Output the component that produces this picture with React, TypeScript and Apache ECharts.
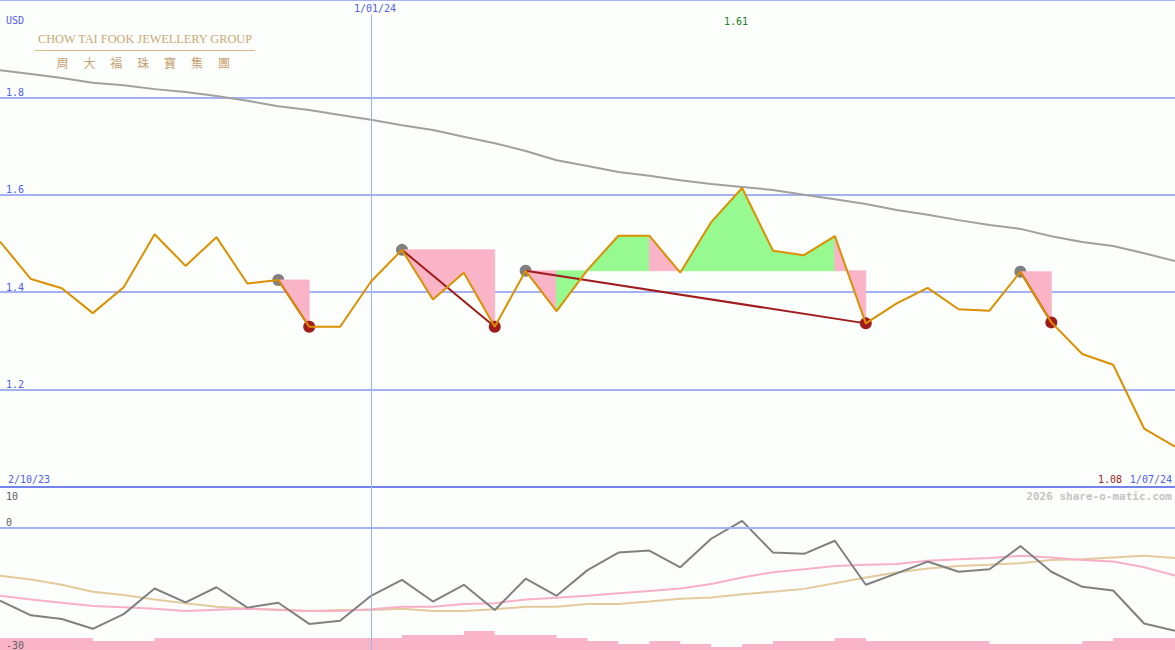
import React, { useEffect, useRef } from 'react';
import * as echarts from 'echarts';

const dates = ['9/10/23','16/10/23','23/10/23','30/10/23','6/11/23','13/11/23','20/11/23','27/11/23','4/12/23','11/12/23','18/12/23','25/12/23','1/01/24','8/01/24','15/01/24','22/01/24','29/01/24','5/02/24','12/02/24','19/02/24','26/02/24','4/03/24','11/03/24','18/03/24','25/03/24','1/04/24','8/04/24','15/04/24','22/04/24','29/04/24','6/05/24','13/05/24','20/05/24','27/05/24','3/06/24','10/06/24','17/06/24','24/06/24','1/07/24'];

const price = [1.504,1.427,1.408,1.357,1.410,1.519,1.454,1.513,1.418,1.425,1.329,1.329,1.422,1.487,1.385,1.440,1.329,1.444,1.361,1.446,1.516,1.516,1.440,1.544,1.614,1.485,1.476,1.515,1.336,1.377,1.409,1.365,1.362,1.442,1.338,1.273,1.251,1.120,1.083];

const movingAvg = [1.856,1.848,1.840,1.830,1.825,1.817,1.811,1.803,1.793,1.782,1.774,1.764,1.754,1.743,1.733,1.719,1.706,1.690,1.671,1.659,1.647,1.639,1.630,1.622,1.616,1.610,1.600,1.591,1.581,1.569,1.559,1.548,1.538,1.530,1.515,1.503,1.495,1.480,1.464];

const oscillator = [-17.9,-21.5,-22.4,-24.8,-21.2,-14.9,-18.3,-14.6,-19.6,-18.4,-23.6,-22.8,-16.7,-12.8,-18.1,-14.0,-20.2,-12.5,-16.7,-10.4,-6.1,-5.6,-9.7,-2.7,1.7,-6.1,-6.4,-3.2,-14.0,-11.2,-8.3,-10.8,-10.2,-4.5,-10.8,-14.5,-15.4,-23.5,-25.3];

const oscPink = [-16.7,-17.6,-18.4,-19.2,-19.5,-19.9,-20.4,-20.1,-19.9,-20.1,-20.4,-20.4,-20.0,-19.4,-19.4,-18.7,-18.5,-17.6,-17.2,-16.7,-16.1,-15.5,-14.9,-13.8,-12.2,-10.9,-10.2,-9.4,-9.1,-8.9,-8.1,-7.7,-7.4,-6.9,-7.3,-7.9,-8.3,-9.7,-11.7];

const oscTan = [-11.8,-12.7,-14.0,-15.7,-16.5,-17.6,-18.5,-19.4,-19.8,-20.2,-20.4,-20.2,-20.2,-19.9,-20.4,-20.4,-20.0,-19.4,-19.4,-18.7,-18.7,-18.1,-17.4,-17.1,-16.3,-15.7,-15.0,-13.6,-12.2,-11.0,-10.0,-9.4,-9.1,-8.7,-7.9,-7.7,-7.3,-6.9,-7.4];

const volume = [4,4,4,3,3,4,4,4,4,4,4,4,4,5,5,6.3,5,5,4,3,2,3,2,1,2,3,3,4,3,3,3,3,2,2,2,3,4,4,4];

const peakIdx = [9, 13, 17, 33];
const troughIdx = [10, 16, 28, 34];

const startLabel = '2/10/23';
const endLabel = '1/07/24';
const markDate = '1/01/24';
const logoEn = 'CHOW TAI FOOK JEWELLERY GROUP';
const logoZh = ['周', '大', '福', '珠', '寶', '集', '團'];

const MONO = '"DejaVu Sans Mono", monospace';
const BLUE_TXT = '#5060f0';
const GRID_BLUE = '#a4b2f2';
const VLINE = '#9fb0fa';
const PINK = '#fab4c8';
const GREEN = '#96fa91';

export default function App() {
  const ref = useRef<HTMLDivElement>(null);

  useEffect(() => {
    document.body.style.margin = '0';
    const chart = echarts.init(ref.current as HTMLDivElement, null, { renderer: 'svg' });

    const fillData: number[][] = [];
    peakIdx.forEach((p, k) => {
      const t = troughIdx[k];
      const level = price[p];
      for (let i = p; i < t; i++) {
        fillData.push([i, level, price[i], price[i + 1], price[i + 1] >= level ? 1 : 0]);
      }
    });

    const ddLines = peakIdx.map((p, k) => {
      const t = troughIdx[k];
      return price.map((v, i) => (i === p || i === t ? v : null));
    });

    const markIdx = dates.indexOf(markDate);
    const maxV = Math.max(...price);
    const lastV = price[price.length - 1];

    const option: any = {
      animation: false,
      backgroundColor: '#fbfefb',
      grid: [
        { left: 0, right: 0, top: 0, height: 487 },
        { left: 0, right: 0, top: 487, height: 163 },
      ],
      xAxis: [
        {
          type: 'category', gridIndex: 0, data: dates, boundaryGap: false,
          axisLine: { show: true, lineStyle: { color: '#7484ee', width: 2 } },
          axisTick: { show: false }, axisLabel: { show: false }, splitLine: { show: false },
        },
        {
          type: 'category', gridIndex: 1, data: dates, boundaryGap: false,
          axisLine: { show: false }, axisTick: { show: false }, axisLabel: { show: false }, splitLine: { show: false },
        },
      ],
      yAxis: [
        {
          type: 'value', gridIndex: 0, min: 1.0, max: 2.0, interval: 0.2,
          axisLine: { show: false }, axisTick: { show: false },
          splitLine: { show: true, showMinLine: false, showMaxLine: true, lineStyle: { color: GRID_BLUE, width: 2 } },
          axisLabel: {
            inside: true, margin: 6, color: BLUE_TXT, fontFamily: MONO, fontSize: 10,
            verticalAlign: 'bottom', showMinLabel: false, showMaxLabel: false,
            formatter: (v: number) => v.toFixed(1),
          },
        },
        {
          type: 'value', gridIndex: 1, min: -30, max: 10, interval: 10, z: 20,
          axisLine: { show: false }, axisTick: { show: false }, splitLine: { show: false },
          axisLabel: {
            inside: true, margin: 6, color: '#606060', fontFamily: MONO, fontSize: 10,
            verticalAlign: 'bottom', showMaxLabel: false, showMinLabel: true,
            formatter: (v: number) => (v === 0 || v === -30 ? String(v) : ''),
          },
        },
        { type: 'value', gridIndex: 1, min: 0, max: 54, show: false },
      ],
      series: [
        {
          name: 'volume', type: 'line', xAxisIndex: 1, yAxisIndex: 2, data: volume, step: 'end',
          symbol: 'none', lineStyle: { width: 0 }, areaStyle: { color: PINK, opacity: 1 }, z: 1,
        },
        {
          name: 'avg', type: 'line', xAxisIndex: 0, yAxisIndex: 0, data: movingAvg, symbol: 'none',
          lineStyle: { color: '#a0a0a0', width: 2 }, z: 2,
          markLine: {
            silent: true, symbol: 'none', animation: false, label: { show: false },
            lineStyle: { color: VLINE, width: 1, type: 'solid' },
            data: [[{ coord: [markIdx, 1.97] }, { coord: [markIdx, 1.0] }]],
          },
        },
        {
          name: 'peaks', type: 'scatter', xAxisIndex: 0, yAxisIndex: 0,
          data: peakIdx.map((i) => [i, price[i]]), symbolSize: 12,
          itemStyle: { color: '#808080', opacity: 1 }, z: 3,
        },
        {
          name: 'drawdown', type: 'custom', xAxisIndex: 0, yAxisIndex: 0, data: fillData, z: 4,
          encode: { x: 0, y: 1 },
          renderItem: (params: any, api: any) => {
            const i = api.value(0);
            const level = api.value(1);
            const a = api.coord([i, level]);
            const b = api.coord([i, api.value(2)]);
            const c = api.coord([i + 1, api.value(3)]);
            const d = api.coord([i + 1, level]);
            const col = api.value(4) ? GREEN : PINK;
            return {
              type: 'polygon',
              shape: { points: [a, b, c, d] },
              style: { fill: col, stroke: col, lineWidth: 0.8 },
            };
          },
        },
        ...ddLines.map((arr) => ({
          type: 'line', xAxisIndex: 0, yAxisIndex: 0, data: arr, connectNulls: true, symbol: 'none',
          lineStyle: { color: '#a01c1c', width: 2 }, z: 5,
        })),
        {
          name: 'troughs', type: 'scatter', xAxisIndex: 0, yAxisIndex: 0,
          data: troughIdx.map((i) => [i, price[i]]), symbolSize: 12,
          itemStyle: { color: '#a01c1c', opacity: 1 }, z: 6,
        },
        {
          name: 'price', type: 'line', xAxisIndex: 0, yAxisIndex: 0, data: price, symbol: 'none',
          lineStyle: { color: '#dc9000', width: 2 }, z: 7,
        },
        {
          name: 'tan', type: 'line', xAxisIndex: 1, yAxisIndex: 1, data: oscTan, symbol: 'none',
          lineStyle: { color: '#e2ca9c', width: 2 }, z: 2,
        },
        {
          name: 'pinkline', type: 'line', xAxisIndex: 1, yAxisIndex: 1, data: oscPink, symbol: 'none',
          lineStyle: { color: '#f8b0c8', width: 2 }, z: 3,
        },
        {
          name: 'osc', type: 'line', xAxisIndex: 1, yAxisIndex: 1, data: oscillator, symbol: 'none',
          lineStyle: { color: '#808080', width: 2 }, z: 4,
          markLine: {
            silent: true, symbol: 'none', animation: false, label: { show: false },
            data: [
              { yAxis: 0, lineStyle: { color: GRID_BLUE, width: 2, type: 'solid' } },
              [
                { coord: [markIdx, 10], lineStyle: { color: VLINE, width: 1, type: 'solid' } },
                { coord: [markIdx, -30] },
              ],
            ],
          },
        },
      ],
      graphic: [
        { type: 'text', x: 6, y: 20, z: 100, style: { text: 'USD', fill: BLUE_TXT, font: `10px ${MONO}`, align: 'left', verticalAlign: 'middle' } },
        { type: 'text', x: 375, y: 8, z: 100, style: { text: markDate, fill: BLUE_TXT, font: `10px ${MONO}`, align: 'center', verticalAlign: 'middle' } },
        { type: 'text', x: 736, y: 21, z: 100, style: { text: maxV.toFixed(2), fill: '#208020', font: `10px ${MONO}`, align: 'center', verticalAlign: 'middle' } },
        { type: 'text', x: 8, y: 479, z: 100, style: { text: startLabel, fill: BLUE_TXT, font: `10px ${MONO}`, align: 'left', verticalAlign: 'middle' } },
        { type: 'text', x: 1172, y: 479, z: 100, style: { text: endLabel, fill: BLUE_TXT, font: `10px ${MONO}`, align: 'right', verticalAlign: 'middle' } },
        { type: 'text', x: 1122, y: 479, z: 100, style: { text: lastV.toFixed(2), fill: '#a01c1c', font: `10px ${MONO}`, align: 'right', verticalAlign: 'middle' } },
        { type: 'text', x: 6, y: 496, z: 100, style: { text: '10', fill: '#606060', font: `10px ${MONO}`, align: 'left', verticalAlign: 'middle' } },
        { type: 'text', x: 1172, y: 496, z: 100, style: { text: '2026 share-o-matic.com', fill: '#c4c4c4', font: `bold 11px ${MONO}`, align: 'right', verticalAlign: 'middle' } },
        { type: 'text', x: 145, y: 39, z: 100, style: { text: logoEn, fill: '#c9a877', font: '12.3px "Liberation Serif", serif', align: 'center', verticalAlign: 'middle' } },
        { type: 'line', z: 100, shape: { x1: 35, y1: 50.5, x2: 255, y2: 50.5 }, style: { stroke: '#dcbc8c', lineWidth: 1 } },
        ...logoZh.map((ch, k) => ({
          type: 'text', x: 62.5 + k * 26.9, y: 62, z: 100,
          style: { text: ch, fill: '#c8a274', font: '12px "Noto Sans CJK TC", sans-serif', align: 'center', verticalAlign: 'middle' },
        })),
      ],
    };

    chart.setOption(option);
    return () => chart.dispose();
  }, []);

  return (
    <div
      ref={ref}
      style={{ position: 'fixed', left: 0, top: 0, width: 1175, height: 650, background: '#fbfefb' }}
    />
  );
}
